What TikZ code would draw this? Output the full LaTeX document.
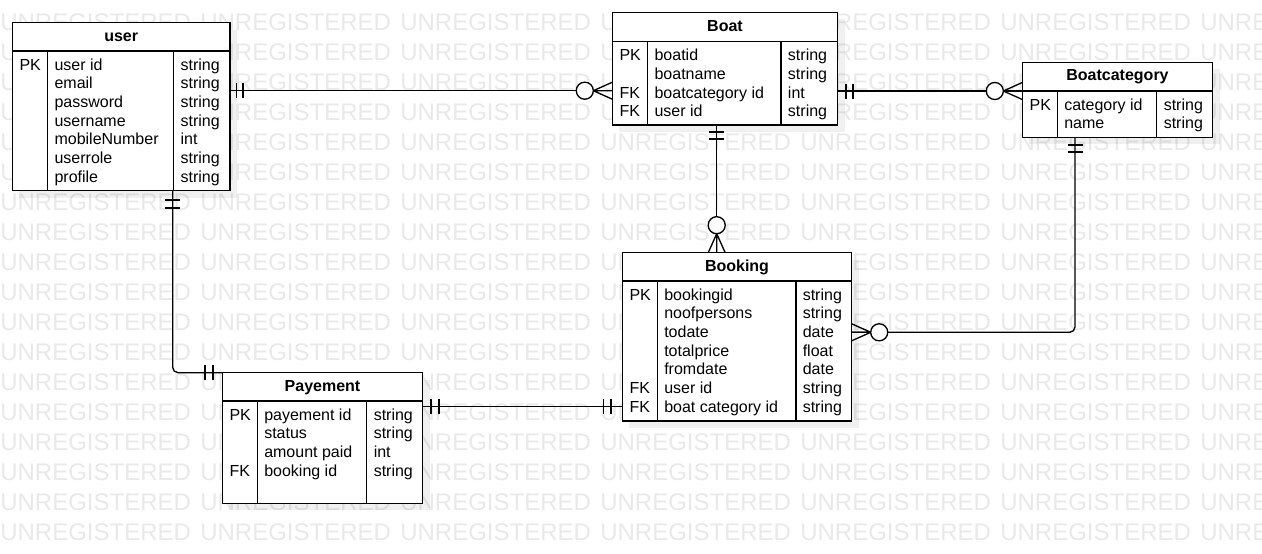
\documentclass[tikz,border=0pt]{standalone}
\usepackage{fontspec}
\setmainfont{Liberation Sans}
\definecolor{wmgray}{RGB}{233,233,233}
\newcommand{\ertbl}[9]{%
  \fill[shd] (#2+7,#3+7) rectangle (#4+7,#5+7);
  \node[tbl, anchor=north west, minimum width={(#4-#2)*0.75pt}, minimum height={(#5-#3)*0.75pt}] (#1) at (#2,#3) {};
  \draw[tline] (#2,#6) -- (#4,#6);
  \draw[tline] (#7,#6) -- (#7,#5);
  \draw[tline] (#8,#6) -- (#8,#5);
  \node[hdr] (#1-title) at ({(#2+#4)/2},{(#3+#6)/2+4.3}) {#9};
}
\newcommand{\ercells}[6]{%
  \foreach \pa/\nm/\ty [count=\i from 0] in {#6}{%
    \node[cell] (#1-\i-a) at (#2,{#5+18.7*\i}) {\pa};
    \node[cell] (#1-\i-b) at (#3,{#5+18.7*\i}) {\nm};
    \node[cell] (#1-\i-c) at (#4,{#5+18.7*\i}) {\ty};
  }%
}
\newcommand{\mbarsH}[3]{\draw[conn] (#1,#3-7.5) -- (#1,#3+7.5) (#2,#3-7.5) -- (#2,#3+7.5);}
\newcommand{\mbarsV}[3]{\draw[conn] (#3-7.5,#1) -- (#3+7.5,#1) (#3-7.5,#2) -- (#3+7.5,#2);}
\newcommand{\crowH}[3]{%
  \draw[conn] ({#1-19*(#3)},#2) -- (#1,#2-8.5) ({#1-19*(#3)},#2) -- (#1,#2) ({#1-19*(#3)},#2) -- (#1,#2+8.5);
  \draw[conn,fill=white] ({#1-27.5*(#3)},#2) circle[radius=6.4pt];}
\newcommand{\crowV}[3]{%
  \draw[conn] (#1,{#2-19*(#3)}) -- (#1-8.5,#2) (#1,{#2-19*(#3)}) -- (#1,#2) (#1,{#2-19*(#3)}) -- (#1+8.5,#2);
  \draw[conn,fill=white] (#1,{#2-27.5*(#3)}) circle[radius=6.4pt];}
\begin{document}
\begin{tikzpicture}[x=0.75pt,y=-0.75pt,
  wm/.style={anchor=base west, inner sep=0, text=wmgray, font=\fontsize{18}{18}\selectfont},
  tbl/.style={rectangle, draw=black, fill=white, line width=1.1pt, inner sep=0, outer sep=0},
  tline/.style={line width=1.1pt},
  hdr/.style={anchor=base, inner sep=0, font=\bfseries\fontsize{12}{14}\selectfont},
  cell/.style={anchor=base west, inner sep=0, font=\fontsize{12}{14}\selectfont},
  conn/.style={line width=1pt, draw=black},
  shd/.style={fill=black, fill opacity=0.06}]
\useasboundingbox (0,0) rectangle (1262,553);
\clip (0,0) rectangle (1262,553);
\fill[white] (0,0) rectangle (1262,553);
% watermark
\foreach \k in {0,...,17}{\foreach \j in {0,...,6}{\node[wm] (wm-\k-\j) at (200*\j,30+30*\k) {UNREGISTERED};}}
% tables
\ertbl{user}{12.3}{22.7}{230}{190.7}{51}{47.7}{173.3}{user}
\ercells{user}{19.3}{54.3}{180.3}{70}{PK/user id/string, /email/string, /password/string, /username/string, /mobileNumber/int, /userrole/string, /profile/string}
\ertbl{Boat}{612.3}{12.3}{837.7}{125}{41.7}{647.7}{781}{Boat}
\ercells{Boat}{619.3}{654.3}{787.7}{60.7}{PK/boatid/string, /boatname/string, FK/boatcategory id/int, FK/user id/string}
\ertbl{Boatcategory}{1022.3}{62.3}{1212.7}{137.3}{91}{1057.3}{1156.7}{Boatcategory}
\ercells{Boatcategory}{1029.3}{1064}{1163.5}{110}{PK/category id/string, /name/string}
\ertbl{Booking}{622.3}{252.7}{851.7}{421}{281}{657.3}{796}{Booking}
\ercells{Booking}{629.3}{664}{802.5}{300}{PK/bookingid/string, /noofpersons/string, /todate/date, /totalprice/float, /fromdate/date, FK/user id/string, FK/boat category id/string}
\ertbl{Payement}{222.3}{372.7}{422.7}{503.3}{401}{257.3}{366.7}{Payement}
\ercells{Payement}{229.3}{264}{373.5}{420}{PK/payement id/string, /status/string, /amount paid/int, FK/booking id/string}
% connectors
\draw[conn] (user.east |- 0,90.7) -- (Boat.west |- 0,90.7);
\draw[conn] (Boat.east |- 0,91) -- (Boatcategory.west |- 0,91);
\draw[conn] (Boat.south -| 716.7,0) -- (Booking.north -| 716.7,0);
\draw[conn, rounded corners=4pt] (Boatcategory.south -| 1075,0) |- (Booking.east |- 0,332.3);
\draw[conn, rounded corners=4pt] (user.south -| 172.7,0) |- (Payement.north west);
\draw[conn] (Payement.east |- 0,406.7) -- (Booking.west |- 0,406.7);
% markers
\mbarsH{236.5}{243}{90.7}
\crowH{612.3}{90.7}{1}
\mbarsH{846}{853}{91}
\crowH{1022.3}{91}{1}
\mbarsV{132}{139}{716.7}
\crowV{716.7}{252.7}{1}
\mbarsV{145}{152}{1075}
\crowH{851.7}{332.3}{-1}
\mbarsV{200}{208}{172.7}
\mbarsH{205}{213}{372.7}
\mbarsH{431}{439}{406.7}
\mbarsH{603.5}{611}{406.7}
\end{tikzpicture}
\end{document}
